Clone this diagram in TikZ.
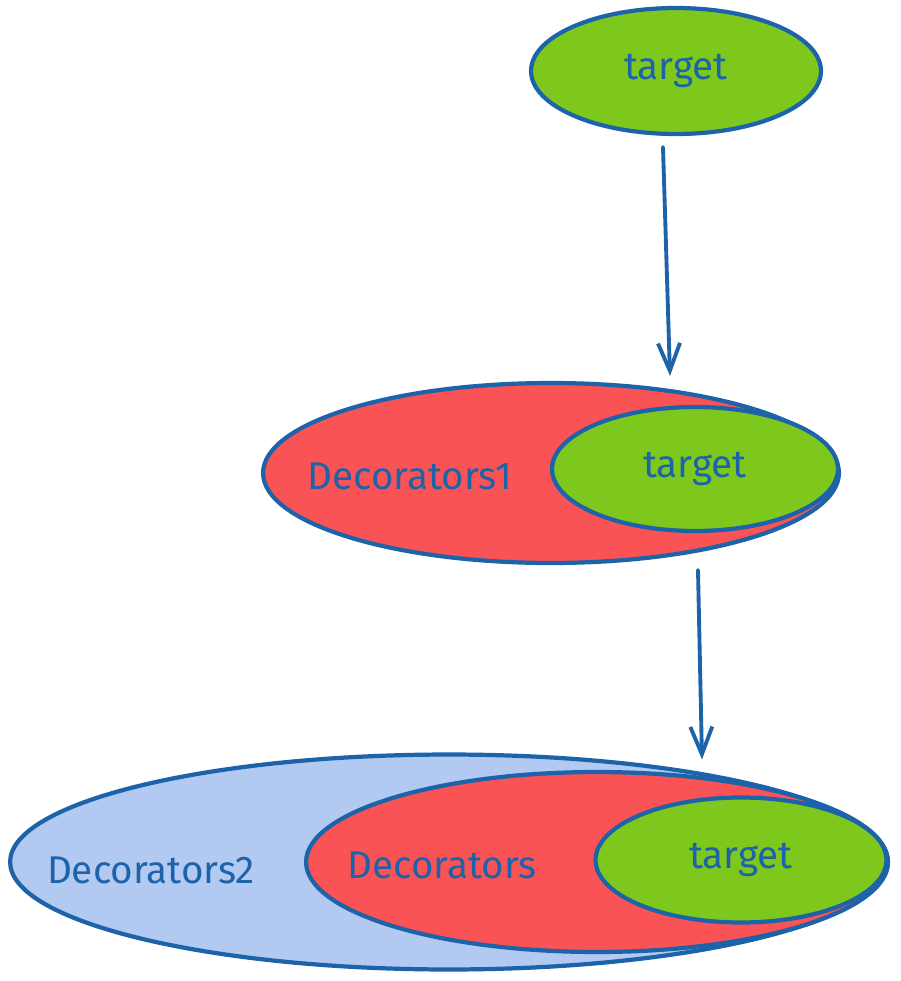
\documentclass[tikz,border=0pt]{standalone}
\usepackage{fontspec}
\setmainfont{Fira Sans}
\usetikzlibrary{shapes.geometric,arrows.meta}
\definecolor{inkblue}{RGB}{29,99,170}
\definecolor{tgtgreen}{RGB}{126,200,30}
\definecolor{decred}{RGB}{249,83,85}
\definecolor{decblue}{RGB}{178,201,241}
\begin{document}
\begin{tikzpicture}[x=0.02cm,y=-0.02cm,
    blob/.style={ellipse,draw=inkblue,line width=2.4pt,inner sep=0pt,text=inkblue,
      font=\fontsize{22}{26}\selectfont},
    lbl/.style={text=inkblue,inner sep=0pt,font=\fontsize{22}{26}\selectfont},
    flow/.style={draw=inkblue,line width=2.2pt,line cap=round,
      -{Straight Barb[length=5.5mm,width=4.4mm,line width=2.2pt]}}]
				\useasboundingbox (0,0) rectangle (900,981);
				
				\node[blob,fill=tgtgreen,minimum width=5.8cm,minimum height=2.52cm] (tgtA) at (676,71) {target};
				
				\node[blob,fill=decred,minimum width=11.52cm,minimum height=3.6cm] (decA) at (551,473) {};
				\node[lbl] (decAlbl) at (410,476) {Decorators1};
				\node[blob,fill=tgtgreen,minimum width=5.72cm,minimum height=2.48cm] (tgtB) at (695,469) {target};
				
				\node[blob,fill=decblue,minimum width=17.56cm,minimum height=4.3cm] (decC) at (449,862) {};
				\node[lbl] (decClbl) at (151,870) {Decorators2};
				\node[blob,fill=decred,minimum width=11.64cm,minimum height=3.6cm] (decB) at (597,862) {};
				\node[lbl] (decBlbl) at (442,865) {Decorators};
				\node[blob,fill=tgtgreen,minimum width=5.82cm,minimum height=2.5cm] (tgtC) at (741,860) {target};
				
				\draw[flow] ([shift={(-13,11)}]tgtA.south) -- ([shift={(119,-5)}]decA.north);
				\draw[flow] ([shift={(147,5)}]decA.south) -- ([shift={(253,7)}]decC.north);
\end{tikzpicture}
\end{document}
